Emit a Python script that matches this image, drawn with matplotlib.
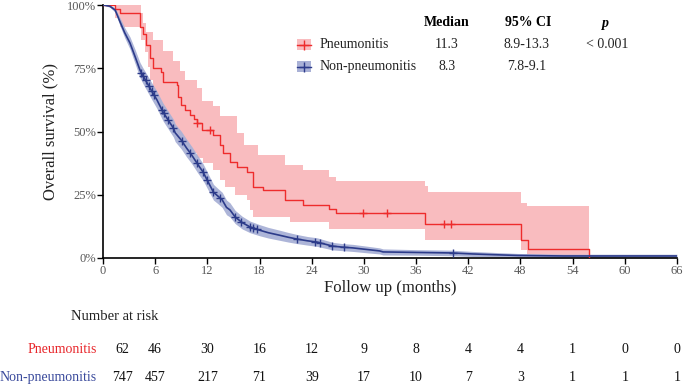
import numpy as np
import matplotlib
matplotlib.use("Agg")
import matplotlib.pyplot as plt
from matplotlib.patches import Rectangle
from matplotlib.lines import Line2D
from matplotlib.transforms import blended_transform_factory

plt.rcParams['font.family'] = ['Liberation Serif', 'DejaVu Serif']

# Pneumonitis KM curve (step, months / % survival)
red_t = [0, 1.4, 2.0, 4.3, 4.6, 5.0, 5.4, 5.8, 6.7, 6.9, 8.5, 8.6, 9.0, 9.4, 10.0, 10.5,
         10.8, 11.35, 12.7, 13.4, 13.8, 14.6, 15.4, 16.5, 17.3, 18.4, 20.9, 23.0, 26.0,
         26.8, 37.0, 48.1, 48.9, 55.9]
red_s = [100, 98.4, 96.8, 91.5, 88.7, 84.2, 79, 75, 73.5, 69.6, 68.4, 63.6, 60.5, 58.5,
         56.5, 55, 53.4, 50.4, 48.6, 44.7, 41.4, 38.1, 36.1, 34.1, 28.2, 26.9, 22.9, 20.9,
         19.2, 17.7, 13.3, 7.1, 3.6, 0]
red_hi_t = [0, 4.4, 4.6, 5.0, 5.8, 6.9, 8.1, 8.9, 9.4, 10.8, 11.35, 12.7, 13.4, 15.4, 16.2,
            17.8, 20.9, 23.0, 26.0, 26.8, 37.0, 37.4, 48.1, 48.7, 55.9]
red_hi = [100, 97, 93, 89.5, 86, 82, 78, 74, 70.4, 67, 62, 60, 56, 49.3, 44.7, 40.7, 36.6,
          34.8, 32.1, 30.6, 28.5, 26.2, 21.6, 20.6, 20.6]
red_lo_t = [0, 1.4, 2.0, 4.4, 4.8, 5.2, 5.4, 5.8, 6.2, 6.55, 7.1, 7.7, 8.5, 9.2, 10.0, 10.8,
            11.5, 12.7, 13.4, 14.0, 15.2, 16.5, 16.9, 17.3, 21.5, 26.0, 37.0, 48.1, 48.7, 55.9]
red_lo = [100, 95, 91.5, 86, 81.5, 75.6, 70.4, 65, 60, 56.5, 54.5, 50.6, 47, 44, 41.5, 39.5,
          37.5, 34.8, 30.8, 28.2, 25, 22.9, 19, 16.3, 14.4, 11.3, 7.1, 3.2, 0.5, 0.5]
red_cens = [10.8, 12.3, 29.9, 32.7, 39.2, 40.0]

# Non-pneumonitis KM curve
blue_t = [0, 0.8, 1.4, 2.0, 2.5, 3.1, 3.7, 4.25, 4.6, 5.0, 5.6, 6.2, 6.9, 7.5, 8.1, 8.3,
          9.0, 9.6, 10.2, 10.9, 11.5, 12.1, 12.7, 13.2, 13.7, 14.2, 14.6, 15.2, 16.0, 16.9,
          18.0, 19.0, 20.3, 21.3, 22.3, 23.5, 24.6, 25.5, 26.4, 27.5, 28.7, 30.5, 31.8,
          32.2, 36.0, 40.0, 42.5, 45.0, 47.7, 53.0, 66.0]
blue_s = [100, 99.5, 98, 93, 89, 85, 79.5, 74.3, 72, 69.6, 66, 62.5, 57.7, 54.5, 51.3, 49.5,
          46.6, 43.5, 40.7, 37, 34, 30, 26, 24.5, 23, 20, 19, 16.2, 14, 12.3, 11, 10, 9,
          8.2, 7.5, 6.8, 6.3, 5.5, 4.7, 4.3, 4.0, 3.3, 2.8, 2.4, 2.2, 2.0, 1.6, 1.3, 1.0,
          0.8, 0.8]
blue_half = [0, 0.4, 0.9, 1.6, 2.0, 2.4, 2.8, 3.0, 3.1, 3.2, 3.3, 3.4, 3.5, 3.5, 3.5, 3.5,
             3.5, 3.5, 3.4, 3.4, 3.3, 3.2, 3.1, 3.0, 3.0, 2.9, 2.8, 2.6, 2.5, 2.3, 2.2, 2.1,
             2.0, 1.9, 1.8, 1.7, 1.7, 1.6, 1.5, 1.4, 1.4, 1.3, 1.2, 1.2, 1.1, 1.1, 1.0, 0.9,
             0.8, 0.7, 0.7]
blue_cens = [4.4, 4.6, 4.9, 5.3, 5.6, 5.9, 6.8, 7.0, 7.5, 8.1, 9.05, 10.0, 10.8, 11.5, 12.0,
             12.7, 13.5, 15.2, 15.9, 16.9, 17.3, 17.7, 22.3, 24.4, 24.9, 26.3, 27.7, 40.3]

# number at risk table
risk_times = [0, 6, 12, 18, 24, 30, 36, 42, 48, 54, 60, 66]
risk_pneu = [62, 46, 30, 16, 12, 9, 8, 4, 4, 1, 0, 0]
risk_non = [747, 457, 217, 71, 39, 17, 10, 7, 3, 1, 1, 1]

RED = '#ee2c2c'
PINK = '#f9bcbf'
BLUE = '#2c3b8a'
LBLUE = '#a9b1d6'

W, H = 685, 385
fig = plt.figure(figsize=(6.85, 3.85), dpi=100)
ax = fig.add_axes([103 / W, 1 - 258 / H, (677 - 103) / W, (258 - 5) / H])


def fx(x, y):
    return x / W, 1 - y / H


def step_val(ts, vs, t):
    idx = np.searchsorted(ts, t, side='right') - 1
    return np.asarray(vs)[idx]


# red band on a shared time grid
grid = np.union1d(red_hi_t, red_lo_t)
ax.fill_between(grid, step_val(red_lo_t, red_lo, grid), step_val(red_hi_t, red_hi, grid),
                step='post', color=PINK, linewidth=0, zorder=1)

bs = np.array(blue_s)
bh = np.array(blue_half)
ax.fill_between(blue_t, np.clip(bs - bh, 0, None), np.clip(bs + bh, None, 100),
                color=LBLUE, linewidth=0, alpha=0.95, zorder=2)

ax.step(red_t, red_s, where='post', color=RED, lw=1.0, zorder=3)
ax.plot(blue_t, blue_s, color=BLUE, lw=1.2, zorder=4)

ax.plot(red_cens, step_val(red_t, red_s, red_cens), '+', color=RED, ms=6, mew=1.0, zorder=5)
ax.plot(blue_cens, np.interp(blue_cens, blue_t, blue_s), '+', color=BLUE, ms=6, mew=1.0, zorder=5)

ax.set_xlim(0, 66)
ax.set_ylim(0, 100)
ax.set_xticks(risk_times)
ax.set_yticks([0, 25, 50, 75, 100])
ax.set_yticklabels(['0%', '25%', '50%', '75%', '100%'])
for s in ['top', 'right']:
    ax.spines[s].set_visible(False)
for s in ['left', 'bottom']:
    ax.spines[s].set_linewidth(1.2)
ax.tick_params(direction='out', length=4, width=1, labelsize=9, labelcolor='#595959', pad=1)
ax.set_xlabel('Follow up (months)', fontsize=12, color='#222222', labelpad=2)
ax.set_ylabel('Overall survival (%)', fontsize=12, color='#222222', labelpad=6)

# legend / summary table
for y, face, col, name, med, ci in [(44.5, PINK, RED, 'Pneumonitis', '11.3', '8.9-13.3'),
                                    (66.7, LBLUE, BLUE, 'Non-pneumonitis', '8.3', '7.8-9.1')]:
    x0, y0 = fx(297, y + 5.5)
    fig.add_artist(Rectangle((x0, y0), 14 / W, 11 / H, transform=fig.transFigure,
                             facecolor=face, edgecolor='none'))
    fig.add_artist(Line2D([297 / W, 311 / W], [1 - y / H] * 2, transform=fig.transFigure,
                          color=col, lw=1.0, marker='+', markevery=[1], ms=0))
    fig.add_artist(Line2D([304 / W], [1 - y / H], transform=fig.transFigure,
                          color=col, marker='+', ms=7, mew=1.0))
    fig.text(*fx(320, y), name, fontsize=10, va='center', ha='left', color='#222222')
    fig.text(*fx(447, y), med, fontsize=10, va='center', ha='center', color='#222222')
    fig.text(*fx(527, y), ci, fontsize=10, va='center', ha='center', color='#222222')

fig.text(*fx(447, 23), 'Median', fontsize=10, fontweight='bold', va='center', ha='center')
fig.text(*fx(528, 23), '95% CI', fontsize=10, fontweight='bold', va='center', ha='center')
fig.text(*fx(605, 23), 'p', fontsize=10, fontweight='bold', style='italic', va='center', ha='center')
fig.text(*fx(607, 44.5), '< 0.001', fontsize=10, va='center', ha='center', color='#222222')

# number at risk
fig.text(*fx(115, 317), 'Number at risk', fontsize=10.5, va='center', ha='center', color='#222222')
fig.text(*fx(97, 349.5), 'Pneumonitis', fontsize=10, va='center', ha='right', color='#e8262b')
fig.text(*fx(97, 377.5), 'Non-pneumonitis', fontsize=10, va='center', ha='right', color='#3a4a9c')
tr = blended_transform_factory(ax.transData, fig.transFigure)
col_x = [2.25] + risk_times[1:]
for cx, a, b in zip(col_x, risk_pneu, risk_non):
    ax.text(cx, 1 - 349.5 / H, str(a), transform=tr, fontsize=10, ha='center', va='center',
            color='#111111', clip_on=False)
    ax.text(cx, 1 - 377.5 / H, str(b), transform=tr, fontsize=10, ha='center', va='center',
            color='#111111', clip_on=False)

fig.savefig('out.png', dpi=100)
